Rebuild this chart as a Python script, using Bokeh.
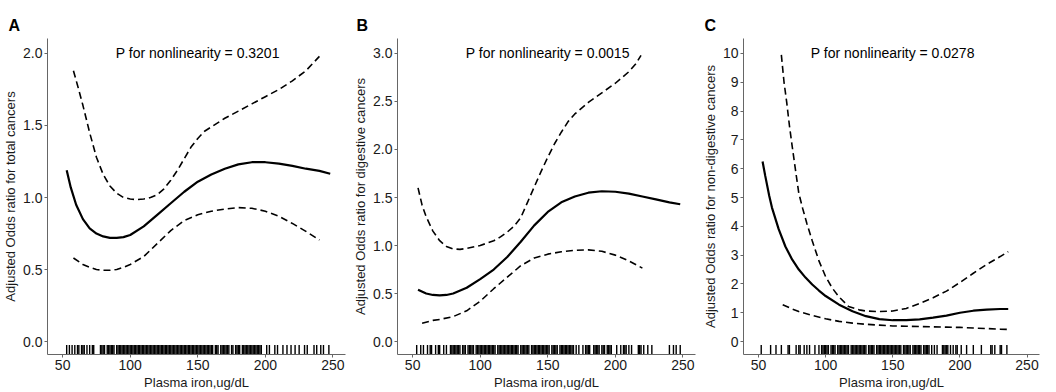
from bokeh.plotting import figure
from bokeh.layouts import row
from bokeh.models import Range1d, Label, FixedTicker, PrintfTickFormatter
from bokeh.embed import file_html
from bokeh.resources import INLINE

# ---------------- data ----------------
x_ticks = [50, 100, 150, 200, 250]

# Panel A: total cancers
a_x = [53, 56, 60, 65, 70, 75, 80, 85, 90, 95, 100, 110, 120, 130, 140, 150, 160, 170, 180, 190, 200, 210, 220, 230, 240, 248]
a_or = [1.19, 1.07, 0.95, 0.85, 0.785, 0.75, 0.73, 0.72, 0.72, 0.725, 0.74, 0.80, 0.88, 0.96, 1.04, 1.11, 1.16, 1.20, 1.23, 1.245, 1.245, 1.235, 1.22, 1.20, 1.185, 1.165]
a_up_x = [58, 61, 65, 70, 75, 80, 85, 90, 95, 100, 105, 110, 115, 120, 125, 130, 135, 140, 145, 150, 155, 160, 170, 180, 190, 200, 210, 220, 230, 240]
a_up = [1.88, 1.78, 1.64, 1.45, 1.28, 1.16, 1.08, 1.03, 1.00, 0.99, 0.985, 0.99, 1.00, 1.02, 1.06, 1.12, 1.19, 1.27, 1.35, 1.41, 1.46, 1.49, 1.55, 1.60, 1.65, 1.70, 1.75, 1.81, 1.88, 1.98]
a_lo_x = [58, 65, 70, 75, 80, 85, 90, 95, 100, 110, 120, 130, 140, 150, 160, 170, 180, 190, 200, 210, 220, 230, 240]
a_lo = [0.58, 0.535, 0.515, 0.50, 0.495, 0.495, 0.50, 0.515, 0.535, 0.59, 0.68, 0.77, 0.84, 0.88, 0.905, 0.92, 0.93, 0.925, 0.905, 0.87, 0.82, 0.765, 0.705]
a_rug = [53, 55, 57, 59, 61, 62, 64, 65, 66, 68, 70, 72, 73,
         78, 79, 80, 81, 83, 84, 85, 86, 87, 88, 90, 91, 92, 93, 94, 95, 96,
         97, 98, 99, 100, 101, 102, 103, 104, 105, 106, 107, 108, 109, 110, 111, 112, 113, 114, 115, 116,
         117, 118, 119, 120, 121, 122, 123, 124, 125, 126, 127, 128, 129, 130, 131, 132, 133, 134, 135, 136,
         137, 138, 139, 140, 141, 142, 143, 144, 145, 146, 147, 148, 149, 150,
         151, 152, 153, 154, 155, 156, 157, 158, 159, 160, 161, 163, 164, 165, 167, 168, 169, 170, 171, 172,
         173, 175, 176, 178, 179, 180, 181, 183, 184, 185, 186, 187, 188, 189, 190, 191, 192, 193, 194, 195, 196, 197,
         201, 203, 207, 209, 213, 216, 219, 222, 225, 229, 231, 236, 238, 241, 243, 247]

# Panel B: digestive cancers
b_x = [54, 60, 65, 70, 75, 80, 90, 100, 110, 120, 130, 140, 150, 160, 170, 180, 190, 200, 210, 220, 230, 240, 248]
b_or = [0.54, 0.50, 0.485, 0.48, 0.485, 0.50, 0.56, 0.65, 0.75, 0.88, 1.04, 1.21, 1.35, 1.45, 1.51, 1.55, 1.565, 1.56, 1.54, 1.51, 1.48, 1.45, 1.43]
b_up_x = [54, 57, 60, 65, 70, 75, 80, 85, 90, 100, 110, 115, 120, 125, 130, 135, 140, 145, 150, 155, 160, 165, 170, 180, 190, 200, 210, 215, 219]
b_up = [1.60, 1.42, 1.30, 1.15, 1.05, 0.99, 0.965, 0.96, 0.97, 1.00, 1.05, 1.09, 1.14, 1.20, 1.29, 1.45, 1.61, 1.77, 1.92, 2.06, 2.18, 2.29, 2.37, 2.49, 2.59, 2.69, 2.81, 2.89, 2.98]
b_lo_x = [57, 65, 70, 80, 90, 100, 110, 120, 130, 140, 150, 160, 170, 180, 190, 200, 210, 220]
b_lo = [0.19, 0.22, 0.23, 0.26, 0.32, 0.42, 0.55, 0.67, 0.79, 0.87, 0.91, 0.935, 0.95, 0.955, 0.94, 0.90, 0.84, 0.765]
b_rug = [53, 56, 58, 61, 63, 64, 67, 69, 70, 73, 75, 78,
         79, 80, 81, 82, 83, 84, 85, 87, 88, 89, 91, 92, 93, 94, 95, 97, 98, 99, 100, 101, 102, 103, 104,
         105, 106, 107, 108, 109, 110, 111, 113, 114, 115, 116, 117, 118, 119, 120, 121, 122, 123, 124, 125,
         126, 127, 128, 130, 131, 132, 133, 134, 135, 136, 138, 139, 140, 141, 142, 143, 144, 145, 146, 147,
         148, 149, 150, 151,
         153, 154, 155, 156, 157, 159, 160, 161, 162, 163, 164, 165, 166, 167, 168, 169,
         171, 173, 176, 178, 179, 180, 181, 184, 185, 186, 187, 188, 190, 191, 192, 194, 195, 196, 197,
         201, 204, 206, 207, 208, 210, 212, 217, 218, 219, 221, 224, 227, 240, 243, 245, 248]

# Panel C: non-digestive cancers
c_x = [53, 55, 58, 60, 65, 70, 75, 80, 85, 90, 95, 100, 110, 120, 130, 140, 150, 160, 170, 180, 190, 200, 210, 220, 230, 236]
c_or = [6.25, 5.75, 5.05, 4.65, 3.90, 3.30, 2.85, 2.50, 2.22, 1.98, 1.77, 1.58, 1.28, 1.05, 0.88, 0.78, 0.74, 0.74, 0.77, 0.83, 0.90, 1.00, 1.07, 1.11, 1.13, 1.13]
c_up_x = [67, 69, 71, 73, 75, 78, 80, 83, 86, 90, 95, 100, 105, 110, 117, 125, 130, 140, 150, 160, 170, 180, 190, 200, 210, 220, 230, 236]
c_up = [9.95, 9.0, 8.3, 7.5, 6.8, 5.8, 5.15, 4.6, 4.1, 3.5, 2.8, 2.25, 1.85, 1.55, 1.22, 1.10, 1.06, 1.04, 1.06, 1.15, 1.32, 1.52, 1.75, 2.05, 2.37, 2.68, 2.95, 3.12]
c_lo_x = [68, 75, 80, 90, 100, 110, 120, 130, 140, 150, 160, 170, 180, 190, 200, 210, 220, 230, 236]
c_lo = [1.28, 1.13, 1.04, 0.91, 0.79, 0.70, 0.64, 0.60, 0.57, 0.54, 0.53, 0.52, 0.51, 0.50, 0.49, 0.47, 0.45, 0.43, 0.42]
c_rug = [52, 59, 63, 67, 72, 73, 78, 80, 81, 84, 86, 88, 92, 95,
         97, 98, 99, 100, 101, 102, 104, 105, 106, 107, 109, 110, 111, 112, 113, 114, 115, 116, 117, 119,
         120, 121, 122, 123, 124, 125, 126, 127, 128, 129, 130, 132, 133, 134, 135, 136, 138, 139, 140, 141,
         142, 143, 144, 145, 146, 147, 148, 149,
         150, 151, 152, 153, 154, 155, 156, 158, 159, 160, 161, 162, 163, 165, 166, 167, 168, 169, 170, 171,
         173, 174, 175, 176, 177, 179, 181, 183, 187, 188, 189, 190, 191, 193, 195, 197, 198,
         201, 205, 210, 216, 223, 224, 226, 230, 231, 235]

panels = [
    dict(tag="A", x=a_x, y=a_or, ux=a_up_x, uy=a_up, lx=a_lo_x, ly=a_lo, rug=a_rug,
         ylim=(-0.09, 2.104), yticks=[0.0, 0.5, 1.0, 1.5, 2.0], fmt="%.1f", ptop=2.0,
         ylabel="Adjusted Odds ratio for total cancers", ptext="P for nonlinearity = 0.3201",
         width=350, bl=45, br=5),
    dict(tag="B", x=b_x, y=b_or, ux=b_up_x, uy=b_up, lx=b_lo_x, ly=b_lo, rug=b_rug,
         ylim=(-0.135, 3.156), yticks=[0.0, 0.5, 1.0, 1.5, 2.0, 2.5, 3.0], fmt="%.1f", ptop=3.0,
         ylabel="Adjusted Odds ratio for digestive cancers", ptext="P for nonlinearity = 0.0015",
         width=348, bl=47, br=3),
    dict(tag="C", x=c_x, y=c_or, ux=c_up_x, uy=c_up, lx=c_lo_x, ly=c_lo, rug=c_rug,
         ylim=(-0.45, 10.52), yticks=[0, 1, 2, 3, 4, 5, 6, 7, 8, 9, 10], fmt="%d", ptop=10.0,
         ylabel="Adjusted Odds ratio for non-digestive cancers", ptext="P for nonlinearity = 0.0278",
         width=342, bl=45, br=1),
]

FONT = "Liberation Sans"
AX = "#666666"
XR = (38.8, 259.3)

figs = []
for d in panels:
    p = figure(width=d["width"], height=392, x_range=Range1d(*XR), y_range=Range1d(*d["ylim"]),
               output_backend="svg", toolbar_location=None,
               min_border_left=d["bl"], min_border_right=d["br"], min_border_top=38, min_border_bottom=37)
    p.title.text = d["tag"]
    p.title.text_font = FONT
    p.title.text_font_size = "16px"
    p.title.text_font_style = "bold"
    p.title.text_color = "black"
    p.title.align = "left"
    p.title.offset = -(d["bl"] - 6)
    p.title.standoff = 10
    p.grid.visible = False
    p.outline_line_color = None
    p.xaxis.ticker = FixedTicker(ticks=x_ticks)
    p.yaxis.ticker = FixedTicker(ticks=d["yticks"])
    p.yaxis.formatter = PrintfTickFormatter(format=d["fmt"])
    for ax in (p.xaxis[0], p.yaxis[0]):
        ax.axis_line_color = AX
        ax.axis_line_width = 1
        ax.major_tick_line_color = AX
        ax.major_tick_out = 3
        ax.major_tick_in = 0
        ax.minor_tick_line_color = None
        ax.major_label_text_font = FONT
        ax.major_label_text_font_size = "14px"
        ax.major_label_text_color = "#1a1a1a"
        ax.major_label_standoff = 2
        ax.axis_label_text_font = FONT
        ax.axis_label_text_font_size = "13px"
        ax.axis_label_text_font_style = "normal"
        ax.axis_label_text_color = "#1a1a1a"
        ax.axis_label_standoff = 2
    p.xaxis.axis_label = "Plasma iron,ug/dL"
    p.yaxis.axis_label = d["ylabel"]

    # rug along the bottom (3% of the panel height)
    y0, y1 = d["ylim"]
    rl = 0.03 * (y1 - y0)
    n = len(d["rug"])
    p.segment(x0=d["rug"], x1=d["rug"], y0=[y0] * n, y1=[y0 + rl] * n, line_color="black", line_width=1.4)

    p.line(d["ux"], d["uy"], line_color="black", line_width=1.6, line_dash="7 4")
    p.line(d["lx"], d["ly"], line_color="black", line_width=1.6, line_dash="7 4")
    p.line(d["x"], d["y"], line_color="black", line_width=2.2)

    p.add_layout(Label(x=150, y=d["ptop"], text=d["ptext"], text_align="center", text_baseline="middle",
                       text_font=FONT, text_font_size="14px", text_color="black"))
    figs.append(p)

layout = row(*figs)
open("out.html", "w").write(file_html(layout, INLINE))
